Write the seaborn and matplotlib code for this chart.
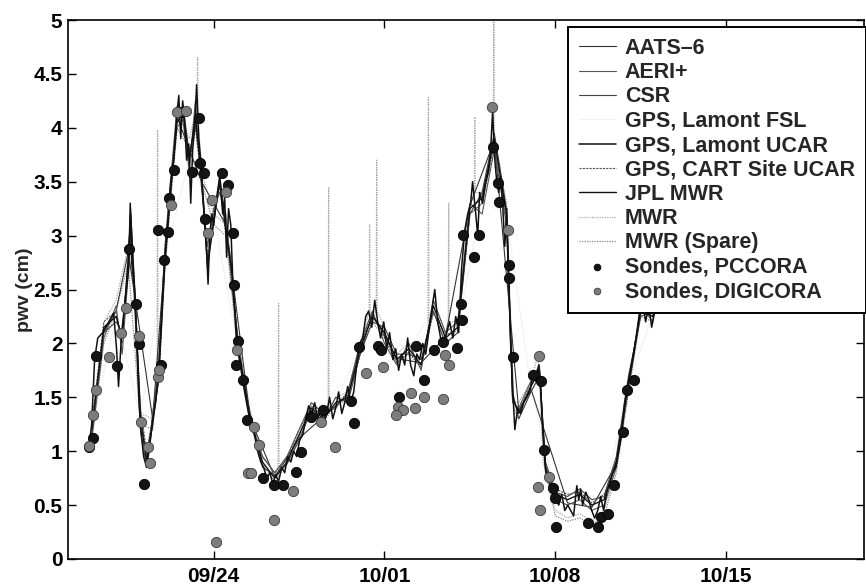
import matplotlib
matplotlib.use("Agg")
import matplotlib.pyplot as plt
import seaborn as sns
import pandas as pd

# ---------------- data (x = days relative to 09/24) ----------------
tick_days = [0, 7, 14, 21]
tick_labels = ["09/24", "10/01", "10/08", "10/15"]
y_ticks = [0, 0.5, 1, 1.5, 2, 2.5, 3, 3.5, 4, 4.5, 5]
y_tick_labels = ["0", "0.5", "1", "1.5", "2", "2.5", "3", "3.5", "4", "4.5", "5"]

gps_lamont_ucar = [
    (-5.12, 1.02), (-5.0, 1.25), (-4.88, 1.85), (-4.75, 2.05), (-4.55, 2.1), (-4.3, 2.2),
    (-4.1, 2.28), (-3.98, 1.95), (-3.9, 1.6), (-3.77, 2.1), (-3.6, 2.45), (-3.48, 2.7),
    (-3.42, 3.3), (-3.36, 2.75), (-3.24, 2.5), (-3.16, 2.1), (-3.07, 1.5), (-2.99, 1.2),
    (-2.87, 0.95), (-2.75, 0.85), (-2.62, 1.05), (-2.5, 1.3), (-2.38, 1.45), (-2.25, 1.75),
    (-2.13, 2.3), (-2.0, 2.8), (-1.89, 3.1), (-1.76, 3.5), (-1.64, 3.7), (-1.52, 4.1),
    (-1.43, 4.3), (-1.35, 3.9), (-1.27, 4.25), (-1.19, 4.05), (-1.11, 3.7), (-1.02, 3.85),
    (-0.94, 3.3), (-0.86, 3.8), (-0.78, 4.0), (-0.7, 4.4), (-0.61, 3.9), (-0.53, 3.7),
    (-0.45, 3.4), (-0.37, 3.15), (-0.29, 2.85), (-0.23, 2.55), (-0.16, 3.0), (-0.08, 3.2),
    (0.0, 3.1), (0.12, 3.35), (0.25, 3.55), (0.37, 3.2), (0.45, 3.35), (0.53, 2.8),
    (0.61, 3.25), (0.7, 3.1), (0.78, 2.6), (0.86, 2.3), (0.94, 2.0), (1.07, 1.85),
    (1.19, 1.65), (1.31, 1.5), (1.43, 1.35), (1.56, 1.25), (1.68, 1.15), (1.8, 1.0),
    (1.93, 0.9), (2.05, 0.85), (2.17, 0.75), (2.3, 0.8), (2.42, 0.7), (2.54, 0.78),
    (2.66, 0.72), (2.79, 0.85), (2.91, 0.8), (3.03, 0.95), (3.16, 0.9), (3.28, 1.0),
    (3.4, 0.95), (3.52, 1.1), (3.65, 1.15), (3.77, 1.3), (3.89, 1.42), (4.02, 1.35),
    (4.14, 1.45), (4.26, 1.3), (4.39, 1.4), (4.51, 1.25), (4.63, 1.35), (4.75, 1.5),
    (4.88, 1.3), (5.0, 1.4), (5.12, 1.55), (5.25, 1.35), (5.37, 1.45), (5.49, 1.6),
    (5.61, 1.45), (5.74, 1.55), (5.86, 1.8), (5.98, 2.0), (6.11, 2.05), (6.23, 2.25),
    (6.35, 2.3), (6.48, 2.15), (6.6, 2.4), (6.72, 2.2), (6.84, 2.05), (6.97, 2.2),
    (7.09, 1.95), (7.21, 2.1), (7.34, 1.85), (7.46, 1.95), (7.58, 1.75), (7.7, 1.9),
    (7.83, 1.8), (7.95, 2.05), (8.07, 1.8), (8.2, 1.7), (8.32, 1.9), (8.44, 1.85),
    (8.57, 2.0), (8.69, 1.9), (8.81, 2.1), (8.93, 2.3), (9.06, 2.5), (9.18, 2.2),
    (9.3, 2.05), (9.43, 2.0), (9.55, 2.1), (9.67, 2.2), (9.8, 2.05), (9.92, 2.25),
    (10.04, 2.1), (10.16, 2.7), (10.29, 3.05), (10.41, 3.2), (10.53, 3.3), (10.61, 3.5),
    (10.74, 3.2), (10.82, 3.0), (10.9, 3.4), (11.02, 3.3), (11.15, 3.5), (11.27, 3.6),
    (11.35, 3.8), (11.43, 4.15), (11.52, 3.7), (11.6, 3.5), (11.68, 3.4), (11.76, 3.55),
    (11.84, 3.3), (11.93, 2.9), (12.01, 3.25), (12.09, 2.6), (12.17, 2.0), (12.25, 1.6),
    (12.34, 1.2), (12.46, 1.4), (12.58, 1.35), (12.7, 1.45), (12.83, 1.5), (12.95, 1.55),
    (13.07, 1.7), (13.2, 1.65), (13.32, 1.8), (13.4, 1.6), (13.48, 1.2), (13.57, 0.9),
    (13.65, 0.75), (13.77, 0.7), (13.89, 0.6), (14.02, 0.55), (14.14, 0.5), (14.26, 0.6),
    (14.39, 0.45), (14.51, 0.5), (14.63, 0.45), (14.75, 0.4), (14.88, 0.68), (14.96, 0.55),
    (15.04, 0.65), (15.12, 0.5), (15.25, 0.62), (15.37, 0.55), (15.49, 0.45), (15.61, 0.38),
    (15.74, 0.45), (15.86, 0.58), (15.98, 0.45), (16.11, 0.62), (16.23, 0.7), (16.35, 0.8),
    (16.48, 0.85), (16.6, 1.0), (16.72, 1.15), (16.84, 1.45), (16.97, 1.6), (17.09, 1.75),
    (17.21, 1.9), (17.34, 2.1), (17.46, 2.3), (17.58, 2.4), (17.7, 2.2), (17.83, 2.35),
    (17.95, 2.15), (18.07, 2.3), (18.16, 2.45), (18.5, 2.8), (19.0, 3.3), (19.5, 4.0),
    (20.0, 4.6), (20.5, 4.8),
]

jpl_mwr = [
    (-5.0, 1.2), (-4.5, 2.15), (-4.0, 2.25), (-3.75, 2.05), (-3.5, 2.8), (-3.4, 3.2),
    (-3.25, 2.55), (-3.0, 1.3), (-2.75, 0.9), (-2.5, 1.25), (-2.25, 1.7), (-2.0, 2.75),
    (-1.75, 3.45), (-1.5, 4.05), (-1.25, 4.15), (-1.0, 3.7), (-0.75, 4.1), (-0.5, 3.55),
    (-0.25, 2.7), (0.0, 3.15), (0.25, 3.5), (0.5, 3.05), (0.75, 2.65), (1.0, 1.95),
    (1.5, 1.3), (2.0, 0.9), (2.5, 0.75), (3.0, 0.9), (3.5, 1.15), (4.0, 1.4), (4.5, 1.3),
    (5.0, 1.45), (5.5, 1.5), (6.0, 1.95), (6.5, 2.25), (7.0, 2.1), (7.5, 1.85), (8.0, 1.95),
    (8.5, 1.8), (9.0, 2.35), (9.5, 2.05), (10.0, 2.15), (10.5, 3.25), (11.0, 3.35),
    (11.5, 3.9), (12.0, 3.2), (12.25, 1.5), (12.5, 1.35), (13.0, 1.6), (13.35, 1.75),
    (13.6, 0.85), (14.0, 0.6), (14.5, 0.55), (15.0, 0.6), (15.5, 0.5), (16.0, 0.55),
    (16.5, 0.9), (17.0, 1.65), (17.5, 2.3), (18.0, 2.25), (18.5, 2.9), (19.0, 3.5), (19.5, 4.1),
]

aeri_plus = [
    (-5.0, 1.1), (-4.5, 2.05), (-4.0, 2.35), (-3.75, 1.9), (-3.5, 2.65), (-3.4, 3.1),
    (-3.25, 2.4), (-3.0, 1.2), (-2.75, 0.85), (-2.5, 1.35), (-2.25, 1.8), (-2.0, 2.9),
    (-1.75, 3.55), (-1.5, 4.2), (-1.25, 4.05), (-1.0, 3.6), (-0.75, 4.25), (-0.5, 3.45),
    (-0.25, 2.9), (0.0, 3.25), (0.25, 3.4), (0.5, 3.2), (0.75, 2.5), (1.0, 2.05),
    (1.5, 1.25), (2.0, 0.95), (2.5, 0.8), (3.0, 0.95), (3.5, 1.2), (4.0, 1.45), (4.5, 1.35),
    (5.0, 1.4), (5.5, 1.55), (6.0, 2.0), (6.5, 2.3), (7.0, 2.0), (7.5, 1.8), (8.0, 2.0),
    (8.5, 1.75), (9.0, 2.4), (9.5, 2.1), (10.0, 2.2), (10.5, 3.3), (11.0, 3.2),
    (11.5, 3.8), (12.0, 3.1), (12.25, 1.45), (12.5, 1.4), (13.0, 1.65), (13.35, 1.8),
    (13.6, 0.8), (14.0, 0.55), (14.5, 0.5), (15.0, 0.55), (15.5, 0.45), (16.0, 0.5),
    (16.5, 0.85), (17.0, 1.6), (17.5, 2.35), (18.0, 2.2), (18.5, 2.95), (19.0, 3.6), (19.5, 4.2),
]

csr = [
    (-5.0, 1.15), (-4.5, 2.1), (-4.0, 2.2), (-3.75, 2.1), (-3.5, 2.75), (-3.4, 3.25),
    (-3.25, 2.5), (-3.0, 1.35), (-2.75, 0.95), (-2.5, 1.3), (-2.25, 1.75), (-2.0, 2.8),
    (-1.75, 3.5), (-1.5, 4.1), (-1.25, 4.2), (-1.0, 3.75), (-0.75, 4.05), (-0.5, 3.6),
    (-0.25, 2.75), (0.0, 3.1), (0.25, 3.55), (0.5, 3.1), (0.75, 2.7), (1.0, 1.9),
    (1.5, 1.35), (2.0, 0.85), (2.5, 0.78), (3.0, 0.88), (3.5, 1.1), (4.0, 1.38), (4.5, 1.28),
    (5.0, 1.5), (5.5, 1.45), (6.0, 1.9), (6.5, 2.2), (7.0, 2.15), (7.5, 1.9), (8.0, 1.9),
    (8.5, 1.85), (9.0, 2.3), (9.5, 2.0), (10.0, 2.1), (10.5, 3.2), (11.0, 3.4),
    (11.5, 3.95), (12.0, 3.25), (12.25, 1.55), (12.5, 1.3), (13.0, 1.55), (13.35, 1.7),
    (13.6, 0.9), (14.0, 0.62), (14.5, 0.58), (15.0, 0.65), (15.5, 0.55), (16.0, 0.58),
    (16.5, 0.95), (17.0, 1.7), (17.5, 2.25), (18.0, 2.3), (18.5, 2.85), (19.0, 3.45), (19.5, 4.05),
]

aats6 = [
    (-4.5, 2.1), (-4.0, 2.3), (-3.5, 2.85), (-2.5, 1.3), (-2.0, 2.8), (-1.5, 4.1),
    (-0.5, 3.5), (0.5, 3.1), (1.5, 1.3), (2.5, 0.76), (3.5, 1.12), (4.5, 1.32),
    (5.5, 1.52), (6.5, 2.28), (7.5, 1.86), (8.5, 1.82), (9.5, 2.06), (10.5, 3.28),
    (11.5, 3.88), (12.5, 1.38), (13.0, 1.58), (14.5, 0.52), (15.5, 0.48), (16.5, 0.88),
    (17.5, 2.28),
]

gps_lamont_fsl = [
    (-5.0, 1.18), (-4.0, 2.27), (-3.0, 1.32), (-2.0, 2.78), (-1.0, 3.72), (0.0, 3.18),
    (1.0, 1.97), (2.0, 0.92), (3.0, 0.92), (4.0, 1.41), (5.0, 1.46), (6.0, 1.96),
    (7.0, 2.08), (8.0, 1.94), (9.0, 2.33), (10.0, 2.14), (11.0, 3.33), (12.0, 3.18),
    (13.0, 1.59), (14.0, 0.61), (15.0, 0.61), (16.0, 0.56), (17.0, 1.63), (18.0, 2.26),
    (19.0, 3.48),
]

gps_cart_ucar = [
    (-5.0, 1.25), (-4.5, 2.2), (-4.0, 2.3), (-3.75, 2.0), (-3.5, 2.7), (-3.4, 3.0),
    (-3.25, 2.6), (-3.0, 1.4), (-2.75, 1.0), (-2.5, 1.3), (-2.25, 1.65), (-2.0, 2.7),
    (-1.75, 3.4), (-1.5, 4.0), (-1.25, 4.1), (-1.0, 3.65), (-0.75, 4.0), (-0.5, 3.5),
    (-0.25, 2.8), (0.0, 3.2), (0.25, 3.45), (0.5, 3.0), (0.75, 2.6), (1.0, 2.0),
    (1.5, 1.3), (2.0, 0.95), (2.5, 0.8), (3.0, 0.92), (3.5, 1.2), (4.0, 1.42), (4.5, 1.32),
    (5.0, 1.42), (5.5, 1.55), (6.0, 1.98), (6.5, 2.28), (7.0, 2.05), (7.5, 1.82), (8.0, 1.92),
    (8.5, 1.78), (9.0, 2.28), (9.5, 2.08), (10.0, 2.12), (10.5, 3.2), (11.0, 3.3),
    (11.5, 3.85), (12.0, 3.15), (12.25, 1.48), (12.5, 1.38), (13.0, 1.62), (13.35, 1.72),
    (13.6, 0.88), (14.0, 0.65), (14.5, 0.6), (15.0, 0.62), (15.5, 0.52), (16.0, 0.6),
    (16.5, 0.92), (17.0, 1.62), (17.5, 2.28), (18.0, 2.28), (18.5, 2.88), (19.0, 3.48), (19.5, 4.12),
]

mwr = [
    (-5.0, 1.15), (-4.5, 2.2), (-4.0, 2.4), (-3.5, 2.9), (-3.4, 3.1), (-3.0, 1.35),
    (-2.5, 1.3), (-2.32, 1.55), (-2.3, 3.98), (-2.28, 1.6), (-2.0, 2.85), (-1.5, 4.15),
    (-1.0, 3.9), (-0.68, 4.2), (-0.66, 4.65), (-0.64, 4.1), (-0.5, 3.6), (0.0, 3.2),
    (0.5, 3.1), (1.0, 2.0), (1.5, 1.35), (2.0, 0.95), (2.5, 0.8), (2.64, 0.85),
    (2.66, 2.37), (2.68, 0.85), (3.0, 0.95), (3.5, 1.15), (4.0, 1.45), (4.5, 1.35),
    (4.69, 1.4), (4.71, 3.45), (4.73, 1.4), (5.0, 1.5), (5.5, 1.55), (6.0, 2.0),
    (6.37, 2.3), (6.39, 3.1), (6.41, 2.3), (6.5, 2.2), (6.66, 2.3), (6.68, 3.7),
    (6.7, 2.3), (7.0, 2.15), (7.5, 1.9), (8.0, 2.0), (8.5, 1.85), (8.78, 2.1),
    (8.8, 4.28), (8.82, 2.2), (9.0, 2.4), (9.5, 2.1), (9.61, 2.2), (9.63, 3.3),
    (9.65, 2.2), (10.0, 2.2), (10.5, 3.3), (10.68, 3.4), (10.7, 4.1), (10.72, 3.4),
    (11.0, 3.4), (11.46, 3.9), (11.48, 5.0), (11.5, 3.9), (12.0, 3.3), (12.3, 1.45),
    (12.5, 1.45), (13.0, 1.65), (13.3, 1.9), (13.5, 0.9), (14.0, 0.45), (14.5, 0.38),
    (15.0, 0.42), (15.5, 0.35), (16.0, 0.45), (16.5, 0.85), (17.0, 1.6), (17.5, 2.3),
    (18.0, 2.25), (18.5, 2.95), (19.0, 3.55), (19.5, 4.2),
]

mwr_spare = [
    (-5.0, 1.1), (-4.5, 2.0), (-4.0, 2.3), (-3.5, 2.75), (-3.0, 1.25), (-2.5, 1.2),
    (-2.0, 2.7), (-1.5, 4.0), (-1.0, 3.8), (-0.5, 3.5), (0.0, 3.1), (0.5, 3.0), (1.0, 1.9),
    (1.5, 1.25), (2.0, 0.88), (2.5, 0.72), (3.0, 0.88), (3.5, 1.12), (4.0, 1.38), (4.5, 1.28),
    (5.0, 1.42), (5.5, 1.48), (6.0, 1.9), (6.5, 2.2), (7.0, 2.05), (7.5, 1.82), (8.0, 1.9),
    (8.5, 1.78), (9.0, 2.3), (9.5, 2.0), (10.0, 2.1), (10.5, 3.2), (11.0, 3.3), (11.5, 3.85),
    (12.0, 3.15), (12.3, 1.4), (12.5, 1.3), (13.0, 1.55), (13.35, 1.7), (13.6, 0.8),
    (14.0, 0.4), (14.5, 0.35), (15.0, 0.38), (15.5, 0.32), (16.0, 0.4), (16.5, 0.8),
    (17.0, 1.55), (17.5, 2.25), (18.0, 2.2), (18.5, 2.85), (19.0, 3.45), (19.5, 4.1),
]

sondes_pccora = [
    (-5.12, 1.04), (-4.96, 1.12), (-4.84, 1.88), (-3.98, 1.79), (-3.45, 2.88), (-3.2, 2.37),
    (-3.07, 1.99), (-2.87, 0.70), (-2.3, 3.05), (-2.17, 1.80), (-2.05, 2.77), (-1.89, 3.03),
    (-1.84, 3.35), (-1.64, 3.61), (-1.35, 4.15), (-0.9, 3.59), (-0.61, 4.09), (-0.57, 3.67),
    (-0.41, 3.58), (-0.37, 3.15), (0.33, 3.58), (0.57, 3.47), (0.78, 3.02), (0.82, 2.54),
    (0.98, 2.02), (0.9, 1.80), (1.19, 1.66), (1.35, 1.29), (2.01, 0.75), (2.46, 0.69),
    (2.83, 0.69), (3.36, 0.81), (3.57, 0.99), (3.98, 1.32), (4.47, 1.38), (5.61, 1.47),
    (5.74, 1.26), (5.94, 1.97), (6.72, 1.98), (6.84, 1.94), (7.58, 1.50), (8.28, 1.98),
    (8.61, 1.66), (9.02, 1.94), (9.39, 2.01), (9.96, 1.96), (10.12, 2.37), (10.16, 2.22),
    (10.2, 3.01), (10.66, 2.80), (10.86, 3.01), (11.43, 3.82), (11.64, 3.49), (11.68, 3.31),
    (12.09, 2.73), (12.1, 2.61), (12.25, 1.87), (13.07, 1.71), (13.4, 1.65), (13.52, 1.01),
    (13.89, 0.66), (13.98, 0.57), (14.02, 0.30), (15.33, 0.33), (15.74, 0.30), (15.86, 0.39),
    (16.15, 0.42), (16.39, 0.69), (16.76, 1.18), (16.93, 1.57), (17.21, 1.66),
]

sondes_digicora = [
    (-5.12, 1.05), (-4.96, 1.34), (-4.84, 1.57), (-4.3, 1.87), (-3.81, 2.10), (-3.61, 2.33),
    (-3.07, 2.07), (-2.99, 1.27), (-2.7, 1.04), (-2.62, 0.89), (-2.3, 1.69), (-2.25, 1.75),
    (-1.76, 3.28), (-1.52, 4.15), (-1.15, 4.16), (-0.25, 3.02), (-0.08, 3.33), (0.49, 3.40),
    (0.94, 1.94), (1.39, 0.80), (1.52, 0.80), (1.64, 1.22), (1.84, 1.06), (0.08, 0.16),
    (2.46, 0.36), (3.24, 0.63), (4.39, 1.27), (4.96, 1.04), (6.23, 1.73), (6.93, 1.78),
    (7.54, 1.41), (7.75, 1.38), (7.46, 1.34), (8.07, 1.54), (8.24, 1.40), (8.61, 1.50),
    (9.39, 1.48), (9.47, 1.89), (9.63, 1.80), (11.39, 4.19), (12.05, 3.05), (13.32, 1.88),
    (13.28, 0.67), (13.36, 0.45), (13.73, 0.76),
]

# ---------------- style ----------------
sns.set_theme(style="ticks")
plt.rcParams["font.family"] = ["Liberation Sans", "DejaVu Sans"]
plt.rcParams["font.weight"] = "bold"

fig = plt.figure(figsize=(8.66, 5.87), dpi=100)
ax = fig.add_axes([68 / 866, 28 / 587, 796 / 866, 539 / 587])


def draw_line(pts, label, color, lw, ls, z):
    df = pd.DataFrame(pts, columns=["day", "pwv"])
    sns.lineplot(data=df, x="day", y="pwv", ax=ax, color=color, lw=lw, ls=ls,
                 sort=False, estimator=None, label=label, zorder=z)


draw_line(aats6, "AATS\u20136", "#333333", 0.8, "-", 3)
draw_line(aeri_plus, "AERI+", "#555555", 0.8, "-", 3)
draw_line(csr, "CSR", "#444444", 0.8, "-", 3)
draw_line(gps_lamont_fsl, "GPS, Lamont FSL", "#f2f2f2", 0.8, "-", 1)
draw_line(gps_lamont_ucar, "GPS, Lamont UCAR", "#111111", 1.1, "-", 5)
draw_line(gps_cart_ucar, "GPS, CART Site UCAR", "#555555", 0.8, (0, (2, 1)), 3)
draw_line(jpl_mwr, "JPL MWR", "#111111", 1.0, "-", 4)
draw_line(mwr, "MWR", "#a8a8a8", 0.9, (0, (1, 1)), 2)
draw_line(mwr_spare, "MWR (Spare)", "#8a8a8a", 0.9, (0, (1, 1)), 2)

pc = pd.DataFrame(sondes_pccora, columns=["day", "pwv"])
dg = pd.DataFrame(sondes_digicora, columns=["day", "pwv"])
sns.scatterplot(data=pc, x="day", y="pwv", ax=ax, color="#141414", s=55,
                edgecolor="#000000", linewidth=0.6, label="Sondes, PCCORA", zorder=6)
sns.scatterplot(data=dg, x="day", y="pwv", ax=ax, color="#7d7d7d", s=55,
                edgecolor="#3a3a3a", linewidth=0.6, label="Sondes, DIGICORA", zorder=6)

ax.set_xlim(-5.97, 26.65)
ax.set_ylim(0, 5)
ax.set_xticks(tick_days)
ax.set_xticklabels(tick_labels)
ax.set_yticks(y_ticks)
ax.set_yticklabels(y_tick_labels)
ax.set_xlabel("")
ax.set_ylabel("pwv (cm)", fontsize=14, fontweight="bold", labelpad=0)
ax.tick_params(direction="in", length=6, width=1, top=True, right=True,
               labelsize=15, colors="black")
ax.tick_params(axis="x", pad=6)
ax.tick_params(axis="y", pad=4)
for lab in ax.get_xticklabels() + ax.get_yticklabels():
    lab.set_fontweight("bold")
for sp in ax.spines.values():
    sp.set_visible(True)
    sp.set_color("black")
    sp.set_linewidth(1.2)

leg = ax.legend(loc="upper right", bbox_to_anchor=(1.002, 0.987), borderaxespad=0,
                frameon=True, fancybox=False, framealpha=1, edgecolor="black",
                prop={"size": 15.5, "weight": "bold"}, handlelength=1.7,
                handletextpad=0.42, labelspacing=0.155, borderpad=0.5, markerscale=0.65)
leg.get_frame().set_linewidth(1.4)
leg.set_zorder(10)

fig.savefig("out.png", dpi=100, facecolor="white")
